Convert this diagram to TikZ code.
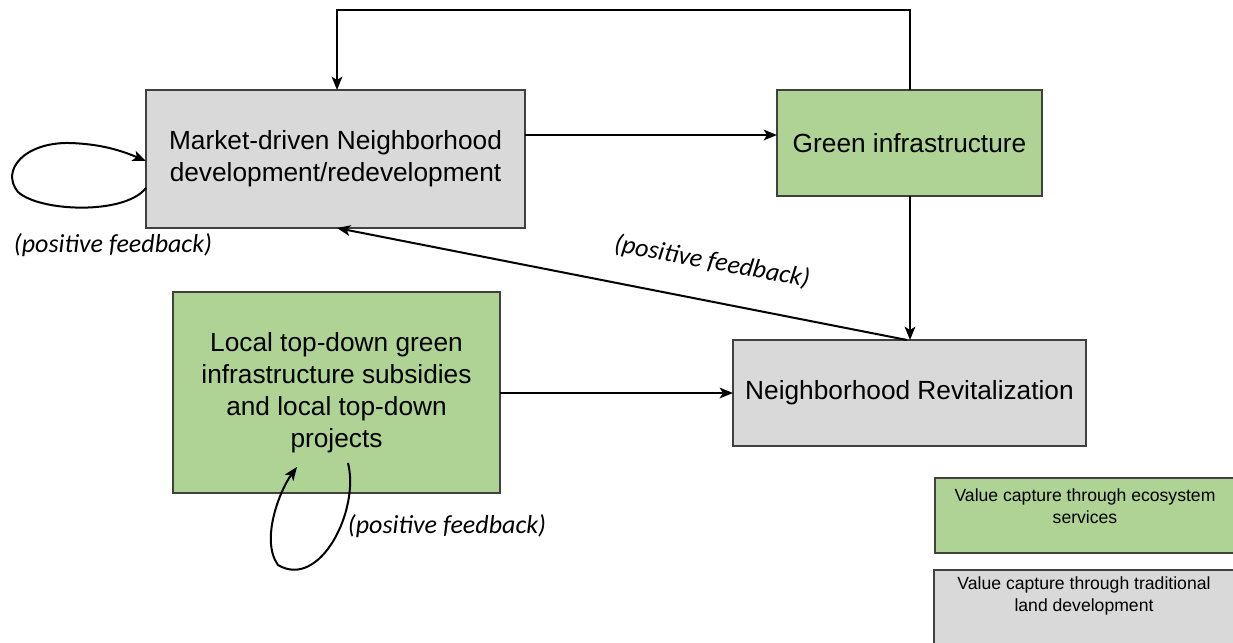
\documentclass[tikz,border=0pt]{standalone}
\usepackage{fontspec}
\setmainfont{Liberation Sans}
\newfontfamily\calfont{Carlito}
\usetikzlibrary{arrows.meta}
\definecolor{boxgray}{HTML}{D9D9D9}
\definecolor{boxgreen}{HTML}{AED394}
\definecolor{edgegray}{HTML}{404040}
\begin{document}
\begin{tikzpicture}[x=0.75pt,y=-0.75pt,
  box/.style={draw=edgegray,line width=1pt,inner sep=0pt,outer sep=0pt,align=center,anchor=north west},
  graybox/.style={box,fill=boxgray},
  greenbox/.style={box,fill=boxgreen},
  big/.style={font=\fontsize{19.7}{24}\selectfont},
  small/.style={font=\fontsize{13.2}{16.5}\selectfont},
  fb/.style={font=\calfont\itshape\fontsize{19.5}{22}\selectfont},
  conn/.style={line width=1.5pt,-{Stealth[length=10pt,width=8pt,inset=2.5pt]}}]
\useasboundingbox (0,0) rectangle (1233,643);
\node[graybox,big,minimum width=379*0.75pt,minimum height=138*0.75pt] (mkt) at (146,90) {Market-driven Neighborhood\\development/redevelopment};
\node[greenbox,big,minimum width=265*0.75pt,minimum height=106*0.75pt] (gi) at (777,90) {Green infrastructure};
\node[greenbox,big,minimum width=327*0.75pt,minimum height=201*0.75pt] (loc) at (173,292) {Local top-down green\\infrastructure subsidies\\and local top-down\\projects};
\node[graybox,big,minimum width=353*0.75pt,minimum height=106*0.75pt] (nr) at (733,340) {Neighborhood Revitalization};
\node[greenbox,minimum width=300*0.75pt,minimum height=75*0.75pt] (lg1) at (935,478) {};
\node[small,align=center] (lg1t) at (1085,506) {Value capture through ecosystem\\services};
\node[graybox,minimum width=300*0.75pt,minimum height=74*0.75pt] (lg2) at (934,570) {};
\node[small,align=center] (lg2t) at (1084,596) {Value capture through traditional\\land development};

\coordinate (mktTop) at (337,90);
\coordinate (giTop) at (910,90);
\coordinate (giBot) at (910,196);
\coordinate (nrTop) at (910,340);
\coordinate (nrTopL) at (907,340);
\coordinate (mktBot) at (337,228);
\coordinate (mktR) at (525,135);
\coordinate (giL) at (777,135);
\coordinate (locR) at (500,393);
\coordinate (nrL) at (733,393);
\coordinate (mktL1) at (146,188);
\coordinate (mktL2) at (146,161);
\coordinate (locB1) at (348,463);
\coordinate (locB2) at (297,467);

\draw[conn] (mktR) -- (giL);
\draw[conn] (giTop) -- (910,10) -- (337,10) -- (mktTop);
\draw[conn] (giBot) -- (nrTop);
\draw[conn] (nrTopL) -- (mktBot);
\node[fb,rotate=-10.5] (fbmid) at (712,262) {(positive feedback)};
\draw[conn] (locR) -- (nrL);
\draw[conn] (mktL1) .. controls (125,215) and (40,212) .. (18,192) .. controls (0,170) and (25,142) .. (70,143) .. controls (100,144) and (120,150) .. (mktL2);
\draw[conn] (locB1) .. controls (360,510) and (320,590) .. (278,565) .. controls (260,540) and (280,490) .. (locB2);

\node[fb] (fb1) at (113,245) {(positive feedback)};
\node[fb] (fb3) at (447,526) {(positive feedback)};
\end{tikzpicture}
\end{document}
